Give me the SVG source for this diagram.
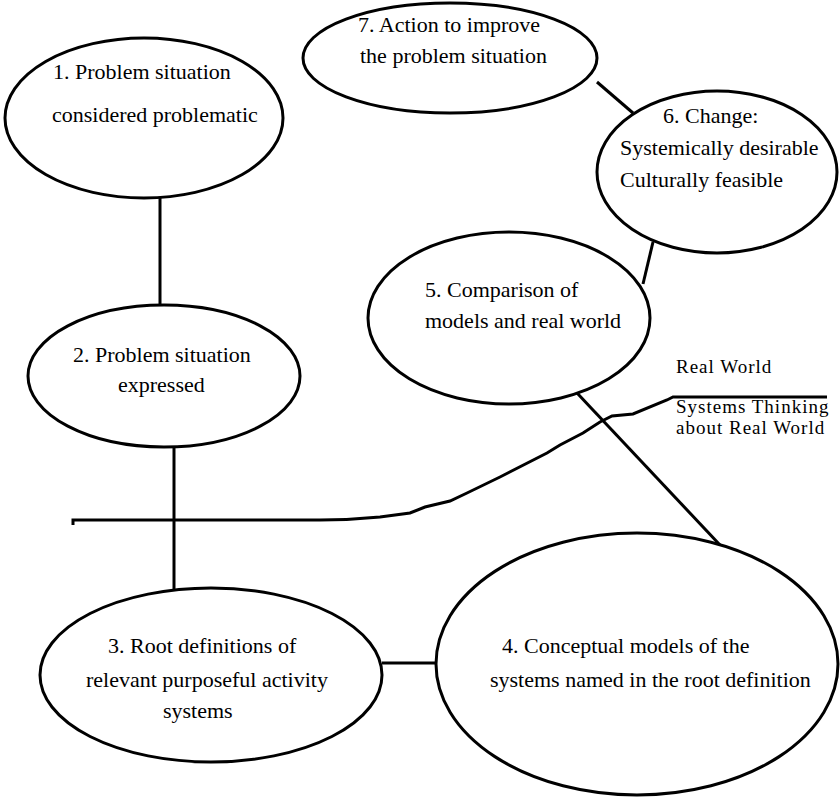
<svg xmlns="http://www.w3.org/2000/svg" width="840" height="797" viewBox="0 0 840 797">
<style>
.n{fill:#fff;stroke:#000;stroke-width:3}
.c{fill:none;stroke:#000;stroke-width:3}
text{font-family:"Liberation Serif","Times New Roman",serif;font-size:22px;fill:#000}
.lbl{font-size:19px;letter-spacing:1px}
</style>
<rect width="840" height="797" fill="#fff"/>
<g id="connectors">
<line class="c" x1="160" y1="198" x2="160" y2="306"/>
<line class="c" x1="174" y1="447" x2="174" y2="589"/>
<line class="c" x1="382" y1="663" x2="436" y2="663"/>
<line class="c" x1="577" y1="393" x2="720" y2="545"/>
<line class="c" x1="653" y1="242" x2="643" y2="284"/>
<line class="c" x1="597" y1="82" x2="633" y2="113"/>
</g>
<g id="divider">
<path class="c" d="M73,525 L73,520 L320,520 C340,520 360,519 380,517 L410,513 L425,507 L450,501 L467,493 L500,477 L547,453 L560,445 L583,433 L600,422 L612,416 L633,414 L667,400 L673,397 L827,397"/>
<text class="lbl" x="676" y="373">Real World</text>
<text class="lbl" x="676" y="413">Systems Thinking</text>
<text class="lbl" x="676" y="434">about Real World</text>
</g>
<g id="node1">
<ellipse class="n" cx="144" cy="118" rx="139" ry="80"/>
<text x="53" y="79">1.  Problem situation</text>
<text x="52" y="122">considered problematic</text>
</g>
<g id="node2">
<ellipse class="n" cx="164" cy="376" rx="136" ry="71"/>
<text x="73" y="362">2.  Problem situation</text>
<text x="118" y="392">expressed</text>
</g>
<g id="node3">
<ellipse class="n" cx="211" cy="675" rx="171" ry="87"/>
<text x="108" y="653">3.  Root definitions of</text>
<text x="86" y="687">relevant purposeful activity</text>
<text x="163" y="718">systems</text>
</g>
<g id="node4">
<ellipse class="n" cx="637" cy="664" rx="201" ry="131"/>
<text x="502" y="653">4.  Conceptual models of the</text>
<text x="490" y="687">systems named in the root definition</text>
</g>
<g id="node5">
<ellipse class="n" cx="509" cy="318" rx="141" ry="86"/>
<text x="425" y="297">5.  Comparison of</text>
<text x="425" y="328">models and real world</text>
</g>
<g id="node6">
<ellipse class="n" cx="717" cy="172" rx="120" ry="81"/>
<text x="663" y="123">6.  Change:</text>
<text x="620" y="155">Systemically desirable</text>
<text x="620" y="187">Culturally feasible</text>
</g>
<g id="node7">
<ellipse class="n" cx="450" cy="58" rx="147" ry="55"/>
<text x="358" y="32">7.  Action to improve</text>
<text x="360" y="63">the problem situation</text>
</g>
</svg>
